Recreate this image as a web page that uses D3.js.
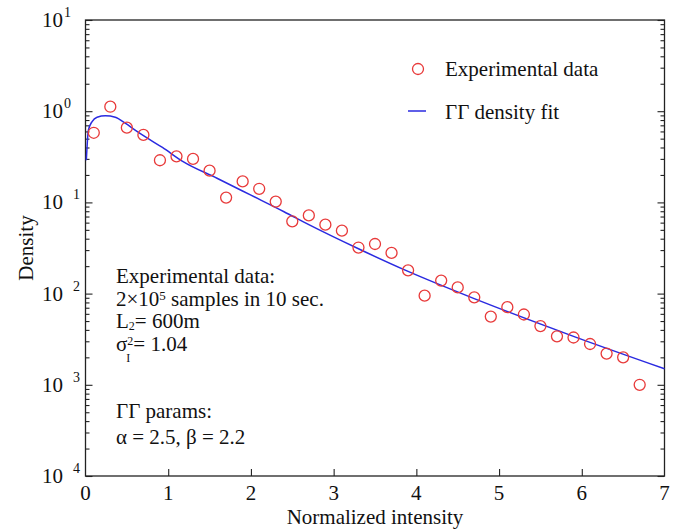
<!DOCTYPE html>
<html>
<head>
<meta charset="utf-8">
<script src="https://cdn.jsdelivr.net/npm/d3@7"></script>
<style>
  html, body { margin: 0; padding: 0; background: #fff; }
  svg { display: block; }
</style>
</head>
<body>
<svg id="chart" width="684" height="529"></svg>
<script>
// ---- data ----
const expX = [0.1, 0.3, 0.5, 0.7, 0.9, 1.1, 1.3, 1.5, 1.7, 1.9, 2.1, 2.3, 2.5, 2.7, 2.9, 3.1, 3.3, 3.5, 3.7, 3.9,
              4.1, 4.3, 4.5, 4.7, 4.9, 5.1, 5.3, 5.5, 5.7, 5.9, 6.1, 6.3, 6.5, 6.7];
const expY = [0.58, 1.12, 0.66, 0.55, 0.29, 0.32, 0.30, 0.223, 0.113, 0.17, 0.141, 0.102, 0.062, 0.072, 0.057, 0.049,
              0.032, 0.035, 0.028, 0.018, 0.0095, 0.0139, 0.0117, 0.0091, 0.0056, 0.0071, 0.0059, 0.0044, 0.0034,
              0.0033, 0.0028, 0.0022, 0.0020, 0.0010];
const fitX = [0.01, 0.035, 0.08, 0.14, 0.24, 0.36, 0.48, 0.6, 0.72, 0.93, 1.18, 1.59, 2.0, 2.4, 2.7, 3.3, 3.9, 4.7, 5.9, 7.0];
const fitY = [0.29, 0.62, 0.77, 0.86, 0.89, 0.86, 0.74, 0.62, 0.525, 0.40, 0.28, 0.184, 0.12, 0.079, 0.057, 0.031,
              0.0175, 0.0088, 0.0034, 0.0015];
const xTicks = [0, 1, 2, 3, 4, 5, 6, 7];
const yExponents = [1, 0, -1, -2, -3, -4];
const yExpLabels = ["1", "0", "1", "2", "3", "4"];
const legendLabels = ["Experimental data", "\u0393\u0393 density fit"];

// ---- layout ----
const FONT = "'Liberation Serif', 'Times New Roman', Times, 'DejaVu Serif', serif";
const svg = d3.select("#chart").attr("font-family", FONT);
const L = 85.5, R = 664.5, T = 20, B = 476;
const x = d3.scaleLinear().domain([0, 7]).range([L, R]);
const y = d3.scaleLog().domain([1e-4, 10]).range([B, T]);
const axisColor = "#222";
const txt = "#111";

// frame
svg.append("rect").attr("x", L).attr("y", T).attr("width", R - L).attr("height", B - T)
  .attr("fill", "none").attr("stroke", axisColor).attr("stroke-width", 1.3);

const majors = yExponents.map(e => Math.pow(10, e));
const minors = [];
for (let e = -4; e < 1; e++) for (let m = 2; m <= 9; m++) minors.push(m * Math.pow(10, e));

function styleAxis(g) {
  g.select(".domain").remove();
  g.selectAll(".tick line").attr("stroke", axisColor).attr("stroke-width", 1.1);
  g.selectAll(".tick text").remove();
}
// left axis (ticks inward)
svg.append("g").attr("transform", `translate(${L},0)`)
  .call(d3.axisRight(y).tickValues(majors).tickSize(7).tickFormat("")).call(styleAxis);
svg.append("g").attr("transform", `translate(${L},0)`)
  .call(d3.axisRight(y).tickValues(minors).tickSize(4).tickFormat("")).call(styleAxis);
// right axis (ticks inward)
svg.append("g").attr("transform", `translate(${R},0)`)
  .call(d3.axisLeft(y).tickValues(majors).tickSize(7).tickFormat("")).call(styleAxis);
svg.append("g").attr("transform", `translate(${R},0)`)
  .call(d3.axisLeft(y).tickValues(minors).tickSize(4).tickFormat("")).call(styleAxis);
// bottom axis (ticks inward)
svg.append("g").attr("transform", `translate(0,${B})`)
  .call(d3.axisTop(x).tickValues(xTicks.slice(1, -1)).tickSize(7).tickFormat("")).call(styleAxis);

// y tick labels
yExponents.forEach((e, i) => {
  const t = svg.append("text").attr("x", 42).attr("y", y(Math.pow(10, e)) + 7)
    .attr("font-size", 21).attr("fill", txt);
  t.append("tspan").text("10");
  t.append("tspan").attr("dx", e < 0 ? 10 : 1).attr("dy", -10).attr("font-size", 14).text(yExpLabels[i]);
});
// x tick labels
svg.selectAll(".xl").data(xTicks).enter().append("text")
  .attr("x", d => x(d)).attr("y", 500).attr("text-anchor", "middle").attr("font-size", 21).attr("fill", txt)
  .text(d => d);

// axis titles
svg.append("text").attr("x", x(3.5)).attr("y", 524).attr("text-anchor", "middle")
  .attr("font-size", 21).attr("fill", txt).text("Normalized intensity");
svg.append("text").attr("transform", `translate(33,${(T + B) / 2}) rotate(-90)`)
  .attr("text-anchor", "middle").attr("font-size", 21).attr("fill", txt).text("Density");

// fit line
const line = d3.line().x((d, i) => x(fitX[i])).y((d, i) => y(fitY[i])).curve(d3.curveMonotoneX);
svg.append("path").datum(fitY).attr("d", line).attr("fill", "none")
  .attr("stroke", "#2a2ae0").attr("stroke-width", 1.5);

// experimental points
svg.selectAll(".pt").data(expY).enter().append("circle")
  .attr("cx", (d, i) => x(expX[i])).attr("cy", d => y(d)).attr("r", 5.5)
  .attr("fill", "none").attr("stroke", "#e83a3a").attr("stroke-width", 1.3);

// legend
svg.append("circle").attr("cx", 418).attr("cy", 69).attr("r", 5.5)
  .attr("fill", "none").attr("stroke", "#e83a3a").attr("stroke-width", 1.3);
svg.append("line").attr("x1", 408).attr("x2", 426).attr("y1", 111).attr("y2", 111)
  .attr("stroke", "#2a2ae0").attr("stroke-width", 1.5);
svg.append("text").attr("x", 445).attr("y", 76).attr("font-size", 21).attr("fill", txt).text(legendLabels[0]);
svg.append("text").attr("x", 445).attr("y", 119).attr("font-size", 21).attr("fill", txt).text(legendLabels[1]);

// annotation
const ax = 116;
svg.append("text").attr("x", ax).attr("y", 283).attr("font-size", 21).attr("fill", txt).text("Experimental data:");
const l2 = svg.append("text").attr("x", ax).attr("y", 306).attr("font-size", 21).attr("fill", txt);
l2.append("tspan").text("2\u00d710");
l2.append("tspan").attr("dy", -6).attr("font-size", 13).text("5");
l2.append("tspan").attr("dy", 6).text(" samples in 10 sec.");
const l3 = svg.append("text").attr("x", ax).attr("y", 328).attr("font-size", 21).attr("fill", txt);
l3.append("tspan").text("L");
l3.append("tspan").attr("dy", 2).attr("font-size", 12).text("2");
l3.append("tspan").attr("dy", -2).text("= 600m");
const l4 = svg.append("text").attr("x", ax).attr("y", 351).attr("font-size", 21).attr("fill", txt);
l4.append("tspan").text("\u03c3");
l4.append("tspan").attr("dy", -6).attr("font-size", 12).text("2");
l4.append("tspan").attr("dy", 17).attr("dx", -7).attr("font-size", 12).text("I");
l4.append("tspan").attr("dy", -11).attr("dx", 3).text("= 1.04");
svg.append("text").attr("x", ax).attr("y", 418).attr("font-size", 21).attr("fill", txt).text("\u0393\u0393 params:");
svg.append("text").attr("x", ax).attr("y", 444).attr("font-size", 21).attr("fill", txt).text("\u03b1 = 2.5, \u03b2 = 2.2");
</script>
</body>
</html>
